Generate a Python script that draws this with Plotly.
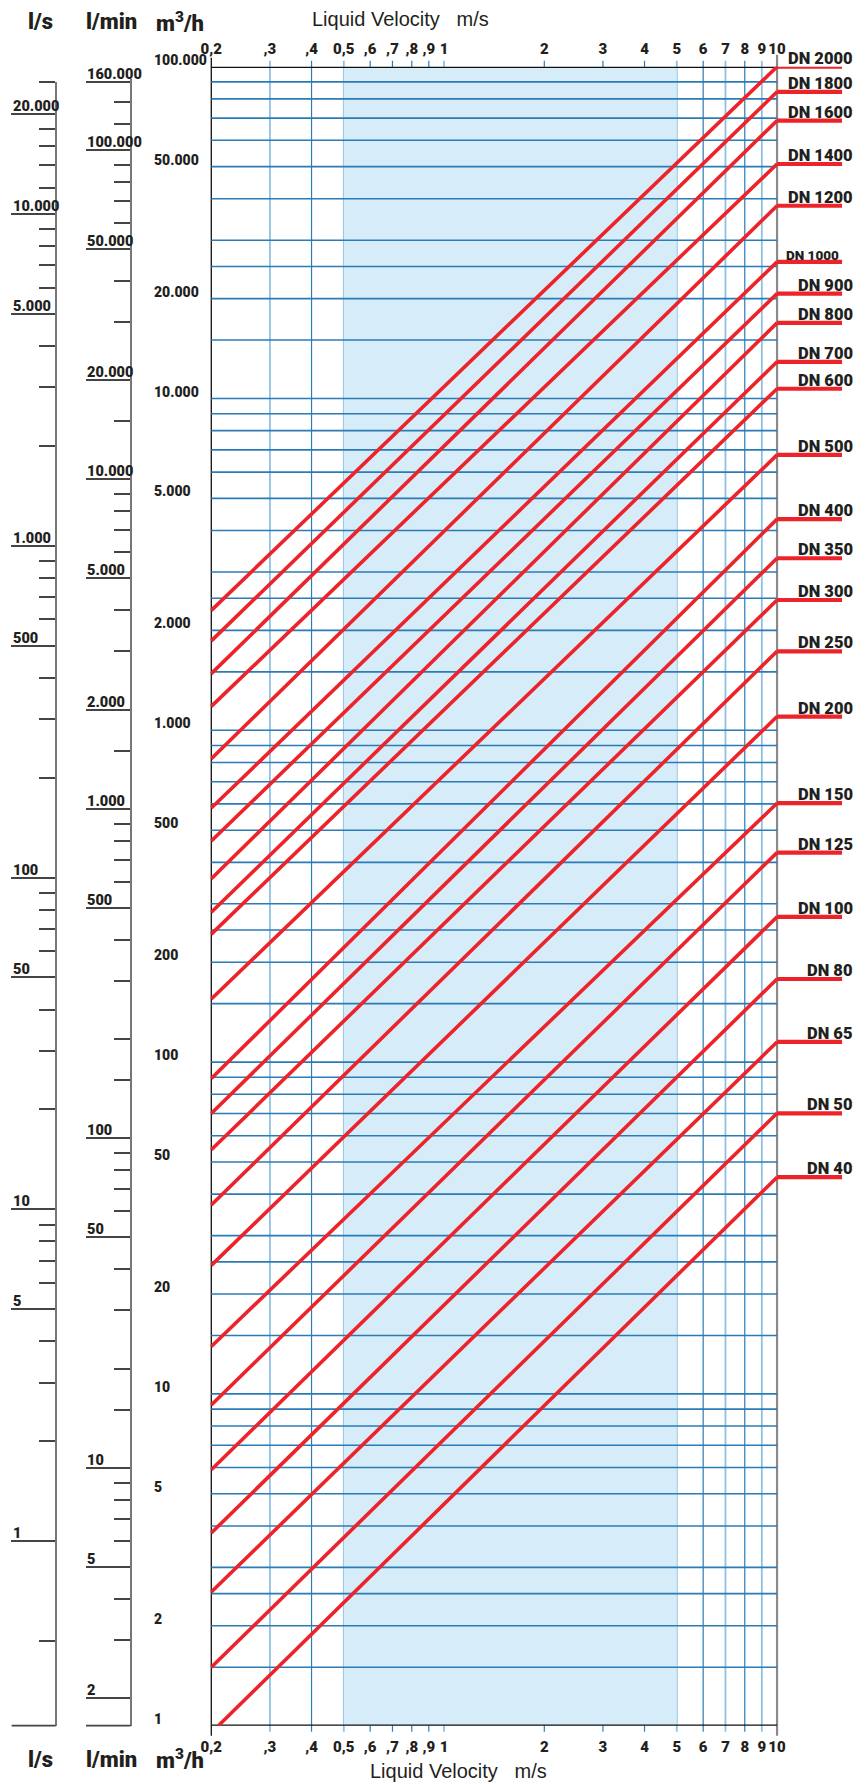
import math
import plotly.graph_objects as go

# ---------------- data ----------------
velocity_ticks = [0.2, 0.3, 0.4, 0.5, 0.6, 0.7, 0.8, 0.9, 1, 2, 3, 4, 5, 6, 7, 8, 9, 10]
velocity_labels = ["0,2", ",3", ",4", "0,5", ",6", ",7", ",8", ",9", "1",
                   "2", "3", "4", "5", "6", "7", "8", "9", "10"]
shade_velocity = [0.5, 5]
flow_min, flow_max = 1, 100000

flow_major = [100000, 50000, 20000, 10000, 5000, 2000, 1000, 500, 200, 100, 50, 20, 10, 5, 2, 1]
flow_major_labels = ["100.000", "50.000", "20.000", "10.000", "5.000", "2.000", "1.000",
                     "500", "200", "100", "50", "20", "10", "5", "2", "1"]
flow_minor = [90000, 80000, 70000, 60000, 40000, 30000, 25000, 15000,
              9000, 8000, 7000, 6000, 4000, 3000, 2500, 1500,
              900, 800, 700, 600, 400, 300, 250, 150,
              90, 80, 70, 60, 40, 30, 25, 15,
              9, 8, 7, 6, 4, 3, 2.5, 1.5]

ls_major = [20000, 10000, 5000, 1000, 500, 100, 50, 10, 5, 1]
ls_major_labels = ["20.000", "10.000", "5.000", "1.000", "500", "100", "50", "10", "5", "1"]
ls_minor = [25000, 18000, 16000, 14000, 12000, 9000, 8000, 7000, 6000, 4000, 3000, 2000,
            900, 800, 700, 600, 400, 300, 200, 90, 80, 70, 60, 40, 30, 20,
            9, 8, 7, 6, 4, 3, 2, 0.5]

lmin_major = [160000, 100000, 50000, 20000, 10000, 5000, 2000, 1000, 500, 100, 50, 10, 5, 2]
lmin_major_labels = ["160.000", "100.000", "50.000", "20.000", "10.000", "5.000", "2.000",
                     "1.000", "500", "100", "50", "10", "5", "2"]
lmin_minor = [140000, 120000, 90000, 80000, 70000, 60000, 40000, 30000, 15000,
              9000, 8000, 7000, 6000, 4000, 3000, 1500, 900, 800, 700, 600, 400, 300, 200, 150,
              90, 80, 70, 60, 40, 30, 20, 15, 9, 8, 7, 6, 4, 3]

dn_labels = ["DN 2000", "DN 1800", "DN 1600", "DN 1400", "DN 1200", "DN 1000", "DN 900",
             "DN 800", "DN 700", "DN 600", "DN 500", "DN 400", "DN 350", "DN 300", "DN 250",
             "DN 200", "DN 150", "DN 125", "DN 100", "DN 80", "DN 65", "DN 50", "DN 40"]
dn_v_start = [0.2] * 22 + [0.21]
dn_q_start = [2298, 1860, 1482, 1181, 821, 583, 464, 357, 283, 243, 155, 89.2, 70.0, 54.4,
              37.1, 24.4, 13.9, 9.26, 5.91, 3.81, 2.53, 1.50, 1.0]
dn_v_end = 10
dn_q_end = [100000, 84000, 68800, 50900, 38100, 25800, 20700, 16900, 12900, 10700, 6760,
            4330, 3300, 2470, 1730, 1100, 603, 428, 274, 178, 115, 70.1, 45.0]

# ---------------- style ----------------
W, H = 866, 1784
NARROW = "Roboto, Noto Sans, DejaVu Sans Condensed, sans-serif"
REG = "Liberation Sans, Arial, Helvetica, sans-serif"
INK = "#231f20"
BLUE = "#2b7bb6"
LIGHT = "#8fc1e2"
RED = "#ec2329"
SHADE = "#d6ecf9"
light_lines = {0.3, 0.5, 1, 5, 7, 9}


def bold(size):
    return dict(family=NARROW, size=size, color=INK, weight=900)


def px_x(p):
    return p / W


def px_y(p):
    return 1 - p / H


# pixel calibration of the main chart
X_PER_DEC, X_02 = 333.0, 211.3
Y_TOP, Y_BOT = 66.7, 1725.7          # frame = flow_max / flow_min
FRAME_H = Y_BOT - Y_TOP
x_range = [math.log10(0.2) - X_02 / X_PER_DEC, math.log10(0.2) + (W - X_02) / X_PER_DEC]
y_range = [math.log10(flow_min), math.log10(flow_max)]
Y_PER_DEC = FRAME_H / (y_range[1] - y_range[0])

fig = go.Figure()

# DN lines
xs, ys = [], []
for vs, qs, qe in zip(dn_v_start, dn_q_start, dn_q_end):
    xs += [vs, dn_v_end, None]
    ys += [qs, qe, None]
fig.add_trace(go.Scatter(x=xs, y=ys, mode="lines", line=dict(color=RED, width=3.6),
                         hoverinfo="skip", showlegend=False))
fig.add_trace(go.Scatter(x=[None], y=[None], xaxis="x2", yaxis="y", showlegend=False))
fig.add_trace(go.Scatter(x=[None], y=[None], xaxis="x", yaxis="y3", showlegend=False))
fig.add_trace(go.Scatter(x=[None], y=[None], xaxis="x", yaxis="y4", showlegend=False))

shapes = []
shapes.append(dict(type="rect", xref="x", yref="y", x0=shade_velocity[0], x1=shade_velocity[1],
                   y0=flow_min, y1=flow_max, fillcolor=SHADE, line=dict(width=0), layer="below"))
# vertical grid (small stubs beyond the frame)
for v in velocity_ticks:
    lo, hi = -6 / FRAME_H, 1 + 6 / FRAME_H
    if v == velocity_ticks[0]:
        col, w = "#111111", 1.3
        lo, hi = -10 / FRAME_H, 1 + 9 / FRAME_H
    elif v == velocity_ticks[-1]:
        col, w = "#8a8a8a", 2.2
        lo, hi = -10 / FRAME_H, 1 + 12 / FRAME_H
    elif v in light_lines:
        col, w = LIGHT, 1.8
    else:
        col, w = BLUE, 1.2
    shapes.append(dict(type="line", xref="x", yref="y domain", x0=v, x1=v, y0=lo, y1=hi,
                       line=dict(color=col, width=w), layer="below"))
# horizontal grid
for q in flow_minor:
    shapes.append(dict(type="line", xref="x", yref="y", x0=velocity_ticks[0], x1=velocity_ticks[-1],
                       y0=q, y1=q, line=dict(color=BLUE, width=1.6), layer="below"))
    shapes.append(dict(type="line", xref="x", xsizemode="pixel", xanchor=velocity_ticks[0],
                       x0=-15, x1=0, yref="y", y0=q, y1=q, line=dict(color=BLUE, width=1.6),
                       layer="below"))
for q in flow_major:
    edge = q in (flow_min, flow_max)
    col = "#111111" if edge else BLUE
    w = 2.6 if edge else 1.6
    shapes.append(dict(type="line", xref="x", yref="y", x0=velocity_ticks[0], x1=velocity_ticks[-1],
                       y0=q, y1=q, line=dict(color=col, width=w), layer="below"))
    shapes.append(dict(type="line", xref="x", xsizemode="pixel", xanchor=velocity_ticks[0],
                       x0=-58, x1=0, yref="y", y0=q, y1=q, line=dict(color=col, width=w),
                       layer="below"))
# red end segments
for qe in dn_q_end:
    shapes.append(dict(type="line", xref="x", xsizemode="pixel", xanchor=dn_v_end,
                       x0=0, x1=65, yref="y", y0=qe, y1=qe, line=dict(color=RED, width=4.2),
                       layer="above"))
# base lines of left scales
shapes.append(dict(type="line", xref="paper", yref="y3 domain", x0=px_x(11.7), x1=px_x(55.7),
                   y0=0, y1=0, line=dict(color="#444", width=1.8)))
shapes.append(dict(type="line", xref="paper", yref="y4 domain", x0=px_x(86), x1=px_x(130.7),
                   y0=0, y1=0, line=dict(color="#444", width=1.8)))

ann = []
for lab, qe in zip(dn_labels, dn_q_end):
    small = lab == "DN 1000"
    ann.append(dict(xref="paper", yref="y", x=px_x(841 if small else 855), y=math.log10(qe),
                    xanchor="right", yanchor="bottom", yshift=-3, showarrow=False, text=lab,
                    font=bold(13.5 if small else 16.5)))
for lab, q in zip(flow_major_labels, flow_major):
    ann.append(dict(xref="paper", yref="y", x=px_x(152), y=math.log10(q), xanchor="left",
                    yanchor="bottom", yshift=-3, showarrow=False, text=lab, font=bold(14)))
for lab, q in zip(ls_major_labels, ls_major):
    ann.append(dict(xref="paper", yref="y3", x=px_x(11), y=math.log10(q), xanchor="left",
                    yanchor="bottom", yshift=-3, showarrow=False, text=lab, font=bold(14.5)))
for lab, q in zip(lmin_major_labels, lmin_major):
    ann.append(dict(xref="paper", yref="y4", x=px_x(85), y=math.log10(q), xanchor="left",
                    yanchor="bottom", yshift=-3, showarrow=False, text=lab, font=bold(14.5)))
for txt, cx in [("l/s", 40), ("l/min", 111), ("m<sup>3</sup>/h", 180)]:
    for cy in (22, 1759):
        ann.append(dict(xref="paper", yref="paper", x=px_x(cx), y=px_y(cy), xanchor="center",
                        yanchor="middle", showarrow=False, text=txt, font=bold(22)))
ann.append(dict(xref="paper", yref="paper", x=px_x(400), y=px_y(19), xanchor="center",
                yanchor="middle", showarrow=False, text="Liquid Velocity\u00a0\u00a0\u00a0m/s",
                font=dict(family=REG, size=20, color=INK)))
ann.append(dict(xref="paper", yref="paper", x=px_x(458), y=px_y(1771), xanchor="center",
                yanchor="middle", showarrow=False, text="Liquid Velocity\u00a0\u00a0\u00a0m/s",
                font=dict(family=REG, size=20, color=INK)))

xcommon = dict(type="log", range=x_range, domain=[0, 1], tickmode="array",
               tickvals=velocity_ticks, ticktext=velocity_labels, ticks="", showgrid=False,
               zeroline=False, showline=False, tickangle=0, tickfont=bold(15))

fig.update_layout(
    width=W, height=H, margin=dict(l=0, r=0, t=0, b=0),
    paper_bgcolor="white", plot_bgcolor="rgba(0,0,0,0)",
    showlegend=False,
    xaxis=dict(anchor="y", side="bottom", ticklabelstandoff=10, **xcommon),
    xaxis2=dict(anchor="y", side="top", overlaying="x", ticklabelstandoff=9, **xcommon),
    yaxis=dict(type="log", range=y_range, domain=[px_y(Y_BOT), px_y(Y_TOP)],
               showticklabels=False, showgrid=False, zeroline=False, ticks="", showline=False),
    yaxis3=dict(type="log", anchor="free", position=px_x(55.7), side="left",
                domain=[px_y(Y_BOT), px_y(82)],
                range=[-math.log10(3.6), (Y_BOT - 82) / Y_PER_DEC - math.log10(3.6)],
                showline=True, linecolor="#777", linewidth=2, showgrid=False, zeroline=False,
                showticklabels=False, tickmode="array", tickvals=ls_major, ticks="outside",
                ticklen=44, tickwidth=1.8, tickcolor="#444",
                minor=dict(tickmode="array", tickvals=ls_minor, ticks="outside", ticklen=16,
                           tickwidth=1.8, tickcolor="#444", showgrid=False)),
    yaxis4=dict(type="log", anchor="free", position=px_x(130.7), side="left",
                domain=[px_y(Y_BOT), px_y(79)],
                range=[1 - (Y_BOT - 1467.7) / 329.5, 1 + (1467.7 - 79) / 329.5],
                showline=True, linecolor="#777", linewidth=2, showgrid=False, zeroline=False,
                showticklabels=False, tickmode="array", tickvals=lmin_major, ticks="outside",
                ticklen=44, tickwidth=1.8, tickcolor="#444",
                minor=dict(tickmode="array", tickvals=lmin_minor, ticks="outside", ticklen=16,
                           tickwidth=1.8, tickcolor="#444", showgrid=False)),
    shapes=shapes,
    annotations=ann,
)

# the page's default 8px body margin would push the 866x1784 figure out of the window
post = "document.body.style.margin = '0';"

fig.write_html("out.html", post_script=post, config={"displayModeBar": False})
